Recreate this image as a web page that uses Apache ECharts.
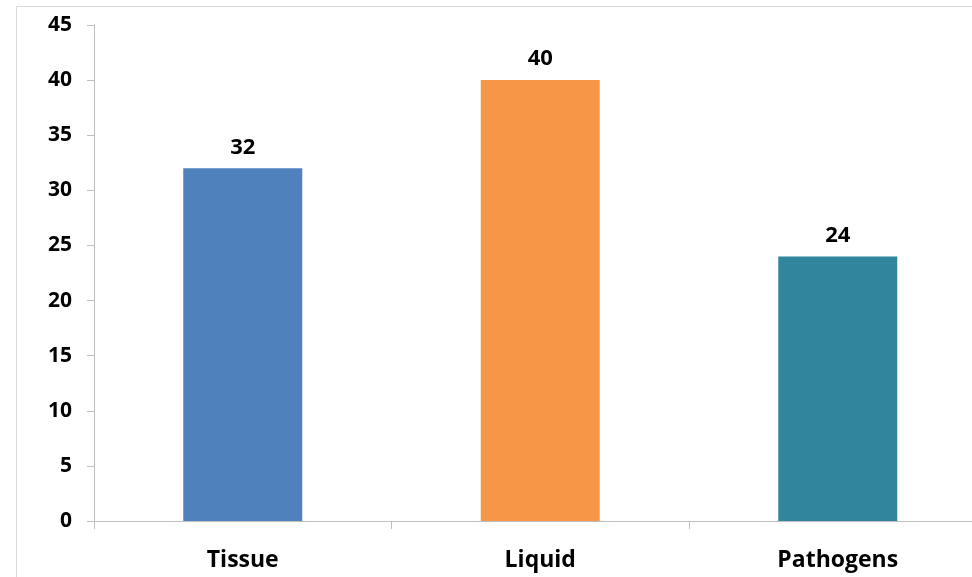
<!DOCTYPE html>
<html>
<head>
<meta charset="utf-8">
<script src="https://cdn.jsdelivr.net/npm/echarts@6/dist/echarts.min.js"></script>
<style>
html,body{margin:0;padding:0;background:#fff;overflow:hidden;width:972px;height:577px;}
#c{width:1000px;height:577px;}
</style>
</head>
<body>
<div id="c"></div>
<script>
const categories = ["Tissue", "Liquid", "Pathogens"];
const values = [32, 40, 24];
const barColors = ["#4F81BD", "#F79646", "#31859C"];

const chart = echarts.init(document.getElementById('c'), null, {renderer: 'canvas'});
const font = '"Open Sans", sans-serif';
chart.setOption({
  animation: false,
  graphic: [{
    type: 'rect',
    shape: {x: 16.5, y: 6.5, width: 1100, height: 700},
    style: {fill: 'none', stroke: '#D9D9D9', lineWidth: 1},
    silent: true, z: -10
  }],
  grid: {left: 94, top: 25, width: 892.5, bottom: 56, containLabel: false},
  xAxis: {
    type: 'category',
    data: categories,
    axisLine: {lineStyle: {color: '#BFBFBF', width: 1}},
    axisTick: {show: true, length: 8, lineStyle: {color: '#BFBFBF'}},
    axisLabel: {color: '#000', fontFamily: font, fontWeight: 'bold', fontSize: 23, margin: 28}
  },
  yAxis: {
    type: 'value',
    min: 0, max: 45, interval: 5,
    splitLine: {show: false},
    axisLine: {show: true, lineStyle: {color: '#BFBFBF', width: 1}},
    axisTick: {show: true, length: 7, lineStyle: {color: '#BFBFBF'}},
    axisLabel: {color: '#000', fontFamily: font, fontWeight: 'bold', fontSize: 21, margin: 22}
  },
  series: [{
    type: 'bar',
    barWidth: '40%',
    data: values.map((v, i) => ({value: v, itemStyle: {color: barColors[i]}})),
    label: {show: true, position: 'top', distance: 10, color: '#000', fontFamily: font, fontWeight: 'bold', fontSize: 22}
  }]
});
</script>
</body>
</html>
